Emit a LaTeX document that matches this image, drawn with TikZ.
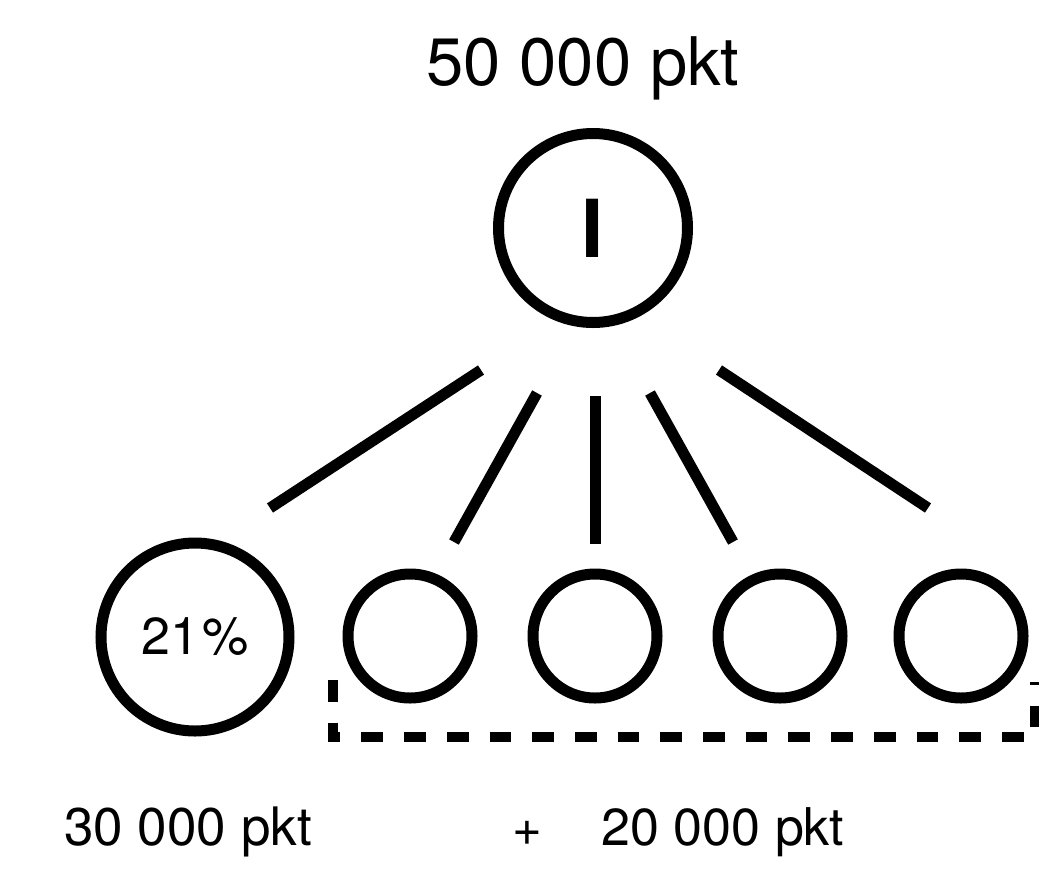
\documentclass[tikz,border=0pt]{standalone}
\usepackage{fontspec}
\setmainfont{TeX Gyre Heros}
\begin{document}
\begin{tikzpicture}[x=1pt,y=-1pt,
  ring/.style={draw=black,line width=11pt,circle,inner sep=0pt},
  bigring/.style={ring,minimum size=189pt},
  smallring/.style={ring,minimum size=124pt},
  link/.style={draw=black,line width=11pt},
  lbl/.style={inner sep=0pt,anchor=base},
  group/.style={draw=black,line width=10pt,dash pattern=on 21.7pt off 21pt}]
\useasboundingbox (0,0) rectangle (1039,868);
\clip (0,0) rectangle (1039,868);
% texts
\node[lbl,font=\fontsize{67}{67}\selectfont] (total) at (583,85) {50 000 pkt};
\node[lbl,font=\fontsize{53}{53}\selectfont] (left) at (188,845) {30 000 pkt};
\node[lbl,font=\fontsize{51}{51}\selectfont] (plus) at (527,845) {+};
\node[lbl,font=\fontsize{52}{52}\selectfont] (right) at (723,845) {20 000 pkt};
% circles
\node[bigring,font=\fontsize{80}{80}\selectfont\bfseries] (root) at (593,228) {I};
\node[ring,minimum size=188pt,font=\fontsize{52}{52}\selectfont] (c1) at (195,637) {21\kern3pt\%};
\node[smallring] (c2) at (410,636) {};
\node[smallring] (c3) at (595,636) {};
\node[smallring] (c4) at (780,636) {};
\node[smallring] (c5) at (961,636) {};
% connector end points
\coordinate (a1) at (481,370);
\coordinate (b1) at (270,508);
\coordinate (a2) at (537,393);
\coordinate (b2) at (454,542);
\coordinate (a3) at (595,396);
\coordinate (b3) at (595,544);
\coordinate (a4) at (650,393);
\coordinate (b4) at (733,542);
\coordinate (a5) at (719,370);
\coordinate (b5) at (928,508);
\draw[link] (a1) -- (b1);
\draw[link] (a2) -- (b2);
\draw[link] (a3) -- (b3);
\draw[link] (a4) -- (b4);
\draw[link] (a5) -- (b5);
% dashed group bracket
\coordinate (g1) at (333,680);
\coordinate (g2) at (333,737);
\coordinate (g3) at (1035,737);
\coordinate (g4) at (1035,682);
\draw[group] (g1) -- (g2) -- (g3) -- (g4);
\end{tikzpicture}
\end{document}
